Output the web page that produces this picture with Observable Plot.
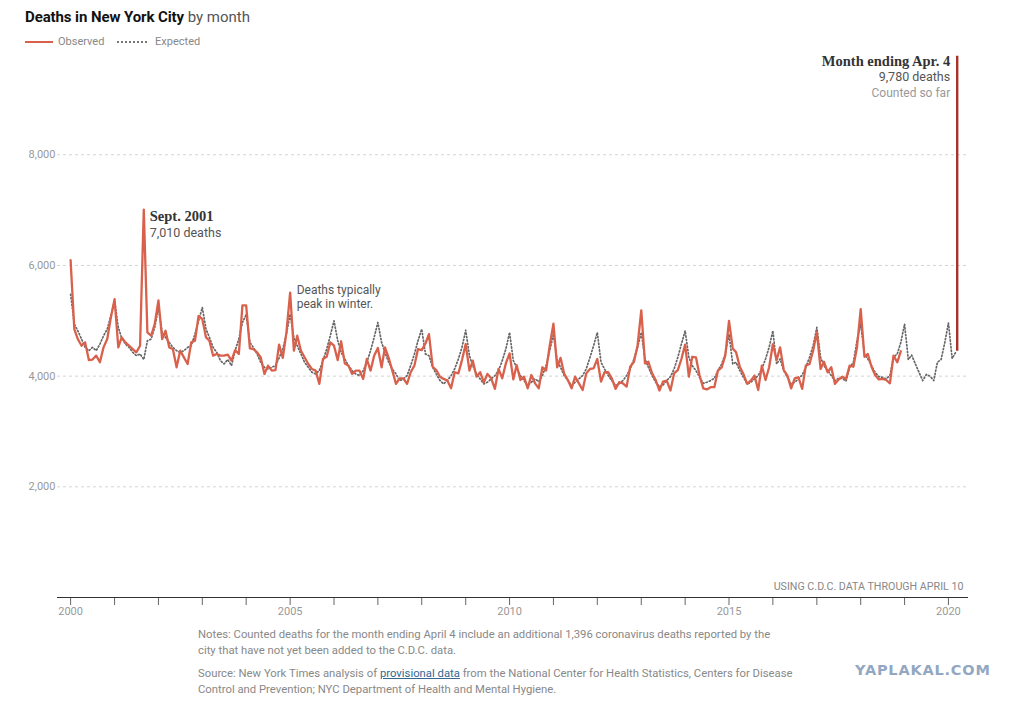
<!DOCTYPE html>
<html>
<head>
<meta charset="utf-8">
<script src="https://cdn.jsdelivr.net/npm/d3@7"></script>
<script src="https://cdn.jsdelivr.net/npm/@observablehq/plot@0.6"></script>
<style>
  body { margin: 0; background: #fff; font-family: Roboto, "Noto Sans", sans-serif; }
  #wrap { position: relative; width: 1017px; height: 701px; overflow: hidden; }
  #chart { position: absolute; left: 0; top: 0; }
  #title { position: absolute; left: 25px; top: 8px; font-size: 15px; color: #121212; white-space: nowrap; }
  #title b { font-weight: 700; letter-spacing: -0.1px; }
  #title span { color: #555; font-weight: 400; }
  #legend { position: absolute; left: 25px; top: 35px; font-size: 11px; color: #888; white-space: nowrap; }
  #legend .sw { display: inline-block; vertical-align: middle; width: 28px; margin-right: 5px; }
  #legend .obs { border-top: 2px solid #d9614c; }
  #legend .exp { border-top: 2px dotted #777; width: 30px; margin-left: 13px; }
  #notes { position: absolute; left: 198px; top: 627px; font-size: 11.3px; line-height: 16px; color: #888; white-space: nowrap; }
  #notes p { margin: 0 0 7px 0; }
  #notes u { color: #326891; text-decoration-color: #326891; }
  #mark { position: absolute; left: 855px; top: 662px; font-size: 14.5px; font-weight: 900; color: #93a7c2; letter-spacing: 0.8px; font-family: "DejaVu Sans", sans-serif; }
</style>
</head>
<body>
<div id="wrap">
  <div id="chart"></div>
  <div id="title"><b>Deaths in New York City</b> <span>by month</span></div>
  <div id="legend"><span class="sw obs"></span>Observed<span class="sw exp"></span> Expected</div>
  <div id="notes">
    <p>Notes: Counted deaths for the month ending April 4 include an additional 1,396 coronavirus deaths reported by the<br>city that have not yet been added to the C.D.C. data.</p>
    <p>Source: New York Times analysis of <u>provisional data</u> from the National Center for Health Statistics, Centers for Disease<br>Control and Prevention; NYC Department of Health and Mental Hygiene.</p>
  </div>
  <div id="mark">YAPLAKAL.COM</div>
</div>
<script>
// Monthly observed deaths, Jan 2000 – Dec 2018
const observed = [
  6095, 4850, 4670, 4550, 4610, 4290, 4300, 4370, 4250, 4520, 4670, 5060, // 2000
  5390, 4520, 4700, 4610, 4550, 4490, 4430, 4550, 7010, 4790, 4730, 4940, // 2001
  5370, 4670, 4820, 4520, 4490, 4160, 4460, 4340, 4220, 4610, 4640, 5090, // 2002
  5030, 4700, 4640, 4370, 4400, 4370, 4370, 4390, 4280, 4470, 4400, 5280, // 2003
  5280, 4500, 4490, 4430, 4340, 4040, 4190, 4100, 4110, 4570, 4330, 4790, // 2004
  5510, 4460, 4730, 4460, 4340, 4220, 4130, 4100, 3860, 4310, 4350, 4610, // 2005
  4550, 4290, 4630, 4230, 4190, 4040, 4100, 4100, 3950, 4310, 4100, 4370, // 2006
  4510, 4160, 4520, 4330, 4100, 3860, 3960, 3960, 3860, 4070, 4190, 4490, // 2007
  4470, 4590, 4760, 4170, 4110, 3990, 3950, 3920, 3780, 4070, 4050, 4290, // 2008
  4580, 4100, 4280, 3990, 4070, 3890, 4040, 3960, 3770, 4130, 3960, 4230, // 2009
  4410, 3940, 4200, 3930, 3990, 3780, 4020, 3870, 3780, 4160, 4100, 4550, // 2010
  4950, 4160, 4330, 4040, 3930, 3780, 3990, 3870, 3750, 4050, 4130, 4140, // 2011
  4310, 3900, 4070, 4070, 3960, 3770, 3890, 3870, 3810, 4170, 4260, 4550, // 2012
  5190, 4230, 4260, 4050, 3930, 3740, 3900, 3920, 3740, 4050, 4110, 4310, // 2013
  4570, 3990, 4350, 4340, 4010, 3780, 3760, 3800, 3800, 4100, 4160, 4370, // 2014
  5000, 4500, 4430, 4170, 4040, 3860, 3920, 4010, 3750, 4190, 3930, 4160, // 2015
  4580, 4290, 4520, 4110, 4010, 3780, 3960, 3980, 3770, 4190, 4220, 4460, // 2016
  4800, 4130, 4260, 4070, 4160, 3860, 3940, 3990, 3950, 4190, 4170, 4520, // 2017
  5210, 4350, 4400, 4170, 4020, 3940, 3950, 3930, 3870, 4370, 4250, 4450  // 2018
];
// Monthly expected deaths, Jan 2000 – Mar 2020
const expected = [
  5480, 4940, 4820, 4670, 4520, 4460, 4520, 4460, 4580, 4730, 4850, 5090, // 2000
  5360, 4880, 4690, 4580, 4520, 4430, 4370, 4400, 4300, 4640, 4670, 4880, // 2001
  5240, 4790, 4700, 4610, 4520, 4460, 4430, 4460, 4520, 4550, 4760, 5000, // 2002
  5240, 4850, 4700, 4520, 4430, 4280, 4220, 4300, 4190, 4460, 4670, 4970, // 2003
  5110, 4610, 4520, 4400, 4250, 4160, 4130, 4160, 4190, 4330, 4490, 4760, // 2004
  5120, 4700, 4550, 4400, 4250, 4160, 4070, 4040, 4100, 4280, 4490, 4730, // 2005
  5000, 4640, 4430, 4310, 4190, 4100, 4040, 4010, 4100, 4250, 4460, 4700, // 2006
  4970, 4610, 4430, 4250, 4130, 4040, 3920, 3950, 4010, 4190, 4400, 4640, // 2007
  4850, 4400, 4370, 4160, 4040, 3920, 3860, 3920, 4010, 4130, 4310, 4520, // 2008
  4830, 4370, 4190, 4040, 3950, 3860, 3890, 3950, 4010, 4100, 4280, 4490, // 2009
  4790, 4280, 4160, 4010, 3920, 3830, 3890, 3950, 3900, 4010, 4190, 4460, // 2010
  4760, 4280, 4160, 4010, 3920, 3830, 3890, 3950, 4010, 4130, 4340, 4550, // 2011
  4790, 4250, 4130, 4010, 3920, 3830, 3860, 3920, 4010, 4130, 4310, 4520, // 2012
  4790, 4310, 4160, 4010, 3890, 3810, 3840, 3920, 3990, 4130, 4340, 4580, // 2013
  4820, 4340, 4190, 4100, 3980, 3870, 3890, 3920, 3960, 4100, 4220, 4400, // 2014
  4760, 4220, 4250, 4100, 3980, 3860, 3890, 3950, 4010, 4130, 4310, 4520, // 2015
  4820, 4220, 4310, 4100, 3980, 3860, 3890, 3950, 4020, 4160, 4340, 4550, // 2016
  4880, 4340, 4190, 4100, 4010, 3920, 3960, 3960, 3910, 4160, 4250, 4640, // 2017
  4940, 4400, 4310, 4190, 4070, 3990, 3980, 3950, 4010, 4340, 4400, 4610, // 2018
  4940, 4300, 4380, 4220, 4070, 3920, 4030, 4000, 3920, 4250, 4300, 4600, // 2019
  4960, 4320, 4430                                                        // 2020
];
// Final partial month (month ending Apr. 4, 2020)
const finalLabel = ["Month ending Apr. 4", "9,780 deaths", "Counted so far"];
const finalDate = "2020-03-14";
const finalLow = 4450;
const finalHigh = 9780;

// Annotations
const sept2001 = { date: "2001-09-01", value: 7010, title: "Sept. 2001", sub: "7,010 deaths" };
const winterNote = { date: "2005-01-01", value: 5510, lines: ["Deaths typically", "peak in winter."] };
const dataNote = "USING C.D.C. DATA THROUGH APRIL 10";

const yTicks = [2000, 4000, 6000, 8000];
const yearTicks = d3.range(2000, 2021);
const labeledYears = [2000, 2005, 2010, 2015, 2020];

const monthDate = i => new Date(Date.UTC(2000, i, 1));
const obsData = observed.map((v, i) => ({ date: monthDate(i), value: v }));
const expData = expected.map((v, i) => ({ date: monthDate(i), value: v }));
const finalData = [{ date: new Date(finalDate), low: finalLow, high: finalHigh }];
const yearDates = yearTicks.map(y => new Date(Date.UTC(y, 0, 1)));

const serif = "'Liberation Serif', 'DejaVu Serif', serif";

const chart = Plot.plot({
  width: 1017,
  height: 625,
  marginLeft: 57,
  marginRight: 49,
  marginTop: 43.6,
  marginBottom: 28,
  x: { type: "utc", domain: [new Date(Date.UTC(1999, 8, 14)), new Date(Date.UTC(2020, 5, 16))] },
  y: { domain: [0, 10000] },
  style: { fontFamily: "Roboto, 'Noto Sans', sans-serif", background: "transparent", overflow: "visible" },
  marks: [
    Plot.gridY(yTicks, { stroke: "#d4d4d4", strokeOpacity: 1, strokeDasharray: "3,3" }),
    Plot.axisY(yTicks, { tickSize: 0, tickPadding: 2, tickFormat: d3.format(","), fill: "#999", fontSize: 11, label: null }),
    Plot.axisX(yearDates, {
      tickSize: 8, tickPadding: 2, stroke: "#666", fill: "#999", fontSize: 11, label: null,
      tickFormat: d => labeledYears.includes(d.getUTCFullYear()) ? String(d.getUTCFullYear()) : ""
    }),
    Plot.ruleY([0], { stroke: "#333", strokeWidth: 1 }),
    Plot.line(expData, { x: "date", y: "value", stroke: "#666", strokeWidth: 1.7, strokeDasharray: "1.2,2.2" }),
    Plot.line(obsData, { x: "date", y: "value", stroke: "#d9614c", strokeWidth: 2.3, strokeLinejoin: "round" }),
    Plot.ruleX(finalData, { x: "date", y1: "low", y2: "high", stroke: "#a9322a", strokeWidth: 2.4 }),
    // Month ending annotation
    Plot.text(finalData, { x: "date", y: "high", text: () => finalLabel[0], dx: -7, dy: 5, textAnchor: "end", lineAnchor: "middle", fontFamily: serif, fontWeight: "bold", fontSize: 14.5, fill: "#333" }),
    Plot.text(finalData, { x: "date", y: "high", text: () => finalLabel[1], dx: -7, dy: 21, textAnchor: "end", lineAnchor: "middle", fontSize: 12.5, fill: "#555" }),
    Plot.text(finalData, { x: "date", y: "high", text: () => finalLabel[2], dx: -7, dy: 37, textAnchor: "end", lineAnchor: "middle", fontSize: 12, fill: "#999" }),
    // Sept. 2001 annotation
    Plot.text([sept2001], { x: d => new Date(d.date), y: "value", text: "title", dx: 6, dy: 7, textAnchor: "start", lineAnchor: "middle", fontFamily: serif, fontWeight: "bold", fontSize: 14.5, fill: "#333" }),
    Plot.text([sept2001], { x: d => new Date(d.date), y: "value", text: "sub", dx: 6, dy: 23, textAnchor: "start", lineAnchor: "middle", fontSize: 12.5, fill: "#555" }),
    // Winter note
    Plot.text([winterNote], { x: d => new Date(d.date), y: "value", text: d => d.lines.join("\n"), dx: 6.5, dy: 4, textAnchor: "start", lineAnchor: "middle", lineHeight: 1.2, fontSize: 12, fill: "#555" }),
    // Data note
    Plot.text([dataNote], { frameAnchor: "bottom-right", text: d => d, dx: -5, dy: -11, textAnchor: "end", lineAnchor: "middle", fontSize: 10.7, fill: "#888" })
  ]
});
document.getElementById("chart").appendChild(chart);
</script>
</body>
</html>
